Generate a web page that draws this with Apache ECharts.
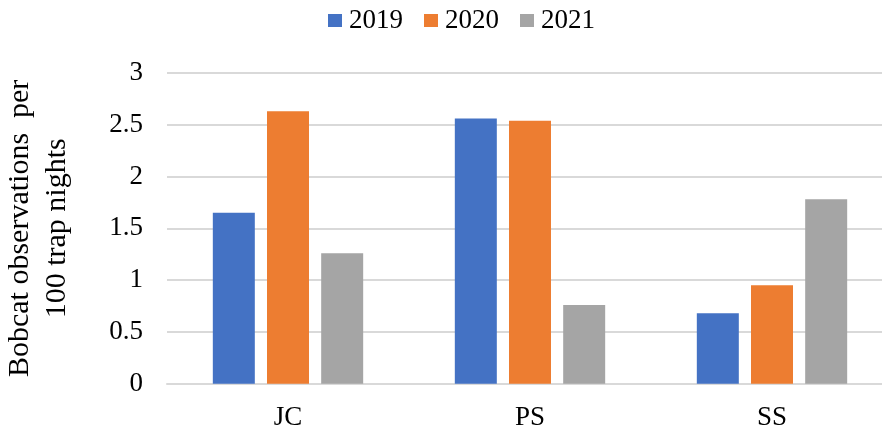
<!DOCTYPE html>
<html>
<head>
<meta charset="utf-8">
<script src="https://cdn.jsdelivr.net/npm/echarts@6/dist/echarts.min.js"></script>
<style>
  html, body { margin: 0; padding: 0; background: #fff; }
  #chart { width: 882px; height: 432px; }
</style>
</head>
<body>
<div id="chart"></div>
<script>
// Sites and yearly detection rates (observations per 100 trap nights)
const sites = ['JC', 'PS', 'SS'];
const years = ['2019', '2020', '2021'];
const rate2019 = [1.65, 2.56, 0.68];
const rate2020 = [2.63, 2.54, 0.95];
const rate2021 = [1.26, 0.76, 1.78];
const yTicks = [0, 0.5, 1, 1.5, 2, 2.5, 3];

const colors = ['#4472C4', '#ED7D31', '#A5A5A5'];
const font = '"Liberation Serif", "Times New Roman", serif';
const seriesValues = [rate2019, rate2020, rate2021];

const chart = echarts.init(document.getElementById('chart'), null, { renderer: 'canvas' });
chart.setOption({
  animation: false,
  textStyle: { fontFamily: font },
  legend: {
    top: 7,
    left: 328,
    padding: 0,
    data: years,
    icon: 'rect',
    itemWidth: 14,
    itemHeight: 13,
    itemGap: 21,
    textStyle: { fontFamily: font, fontSize: 27, color: '#000', padding: [0, 0, 0, 2] }
  },
  grid: {
    left: 167, top: 73, width: 726, height: 310.7,
    containLabel: false,
    outerBoundsMode: 'none'
  },
  xAxis: {
    type: 'category',
    data: sites,
    axisLine: { show: true, lineStyle: { color: '#D9D9D9', width: 2 } },
    axisTick: { show: false },
    axisLabel: { fontFamily: font, fontSize: 27, color: '#000', margin: 21 }
  },
  yAxis: {
    type: 'value',
    min: yTicks[0],
    max: yTicks[yTicks.length - 1],
    interval: 0.5,
    axisLine: { show: false },
    axisTick: { show: false },
    splitLine: { lineStyle: { color: '#D9D9D9', width: 2 } },
    axisLabel: { fontFamily: font, fontSize: 27, color: '#000', margin: 24 },
    name: 'Bobcat observations  per\n100 trap nights',
    nameLocation: 'middle',
    nameGap: 91,
    nameTextStyle: { fontFamily: font, fontSize: 30, color: '#000', lineHeight: 37 }
  },
  series: years.map((y, i) => ({
    name: y,
    type: 'bar',
    data: seriesValues[i],
    barWidth: 42,
    barGap: '29%',
    itemStyle: { color: colors[i] }
  }))
});
</script>
</body>
</html>
